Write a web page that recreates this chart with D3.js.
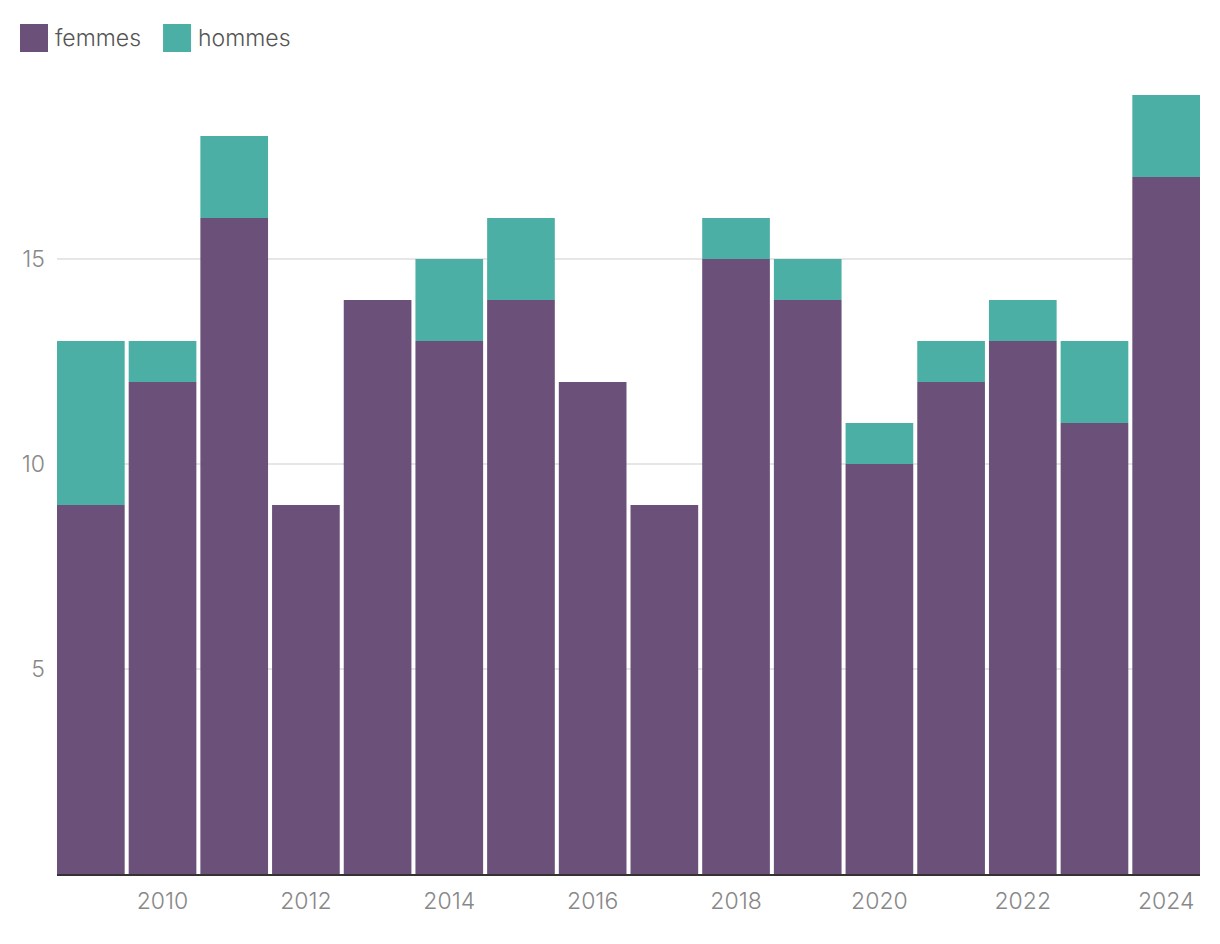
<!DOCTYPE html>
<html>
<head>
<meta charset="utf-8">
<script src="https://cdn.jsdelivr.net/npm/d3@7"></script>
<style>
  html, body { margin: 0; padding: 0; background: #fff; }
  svg { display: block; font-family: Inter, "Noto Sans", sans-serif; }
</style>
</head>
<body>
<svg id="chart" width="1220" height="944"></svg>
<script>
const years = [2009, 2010, 2011, 2012, 2013, 2014, 2015, 2016, 2017, 2018, 2019, 2020, 2021, 2022, 2023, 2024];
const femmes = [9, 12, 16, 9, 14, 13, 14, 12, 9, 15, 14, 10, 12, 13, 11, 17];
const hommes = [4, 1, 2, 0, 0, 2, 2, 0, 0, 1, 1, 1, 1, 1, 2, 2];
const seriesNames = ["femmes", "hommes"];
const seriesColors = ["#6b5179", "#4cafa5"];
const yTicks = [5, 10, 15];
const xTickYears = [2010, 2012, 2014, 2016, 2018, 2020, 2022, 2024];

const svg = d3.select("#chart");
const margin = { left: 57, right: 20, top: 95, bottom: 70 };
const W = 1220, H = 944;

const rows = years.map((y, i) => ({ year: y, femmes: femmes[i], hommes: hommes[i] }));
const stack = d3.stack().keys(seriesNames)(rows);

const x = d3.scaleBand().domain(years).range([margin.left, W - margin.right]).paddingInner(0.056).paddingOuter(0);
const y = d3.scaleLinear().domain([0, 19]).range([H - margin.bottom, margin.top]);

// grid
svg.append("g").selectAll("line").data(yTicks).join("line")
  .attr("x1", margin.left).attr("x2", W - margin.right)
  .attr("y1", d => y(d)).attr("y2", d => y(d))
  .attr("stroke", "#e6e6e6").attr("stroke-width", 2);

// y labels
svg.append("g").selectAll("text").data(yTicks).join("text")
  .attr("x", 45).attr("y", d => y(d)).attr("dy", "0.35em")
  .attr("text-anchor", "end").attr("fill", "#888").attr("font-size", 23).attr("font-weight", 300)
  .text(d => d);

// bars
svg.append("g").selectAll("g").data(stack).join("g")
  .attr("fill", (d, i) => seriesColors[i])
  .selectAll("rect").data(d => d.filter(s => s[1] > s[0])).join("rect")
  .attr("x", d => x(d.data.year)).attr("width", x.bandwidth())
  .attr("y", d => y(d[1])).attr("height", d => y(d[0]) - y(d[1]));

// baseline
svg.append("line")
  .attr("x1", margin.left).attr("x2", W - margin.right)
  .attr("y1", y(0) + 1).attr("y2", y(0) + 1)
  .attr("stroke", "#333").attr("stroke-width", 2);

// x labels
svg.append("g").selectAll("text").data(xTickYears).join("text")
  .attr("x", d => x(d) + x.bandwidth() / 2).attr("y", y(0) + 27).attr("dy", "0.35em")
  .attr("text-anchor", "middle").attr("fill", "#888").attr("font-size", 23).attr("font-weight", 300)
  .text(d => d);

// legend
const legend = svg.append("g");
let lx = 20;
seriesNames.forEach((name, i) => {
  legend.append("rect").attr("x", lx).attr("y", 24).attr("width", 28).attr("height", 28).attr("fill", seriesColors[i]);
  const t = legend.append("text").attr("x", lx + 35).attr("y", 38).attr("dy", "0.35em")
    .attr("fill", "#555").attr("font-size", 23).attr("font-weight", 300).text(name);
  lx += 35 + t.node().getComputedTextLength() + 22;
});
</script>
</body>
</html>
